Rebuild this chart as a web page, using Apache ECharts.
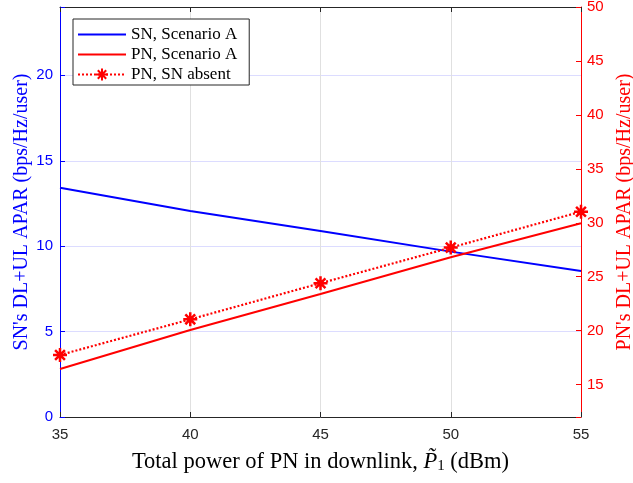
<!DOCTYPE html>
<html><head><meta charset="utf-8">
<script src="https://cdn.jsdelivr.net/npm/echarts@6/dist/echarts.min.js"></script>
<style>html,body{margin:0;padding:0;background:#fff}#c{width:633px;height:483px}</style>
</head><body><div id="c"></div>
<script>
const xValues = [35, 40, 45, 50, 55];
const snScenarioA = [13.42, 12.06, 10.89, 9.68, 8.55];
const pnScenarioA = [16.45, 20.07, 23.4, 26.8, 29.95];
const pnSnAbsent = [17.75, 21.05, 24.4, 27.7, 31.03];
const seriesNames = ['SN, Scenario A', 'PN, Scenario A', 'PN, SN absent'];
const leftTicks = [0, 5, 10, 15, 20];
const rightTicks = [15, 20, 25, 30, 35, 40, 45, 50];

const pairs = v => xValues.map((x, i) => [x, v[i]]);
const star = 'path://M0,-10L0,10M-10,0L10,0M-7,-7L7,7M-7,7L7,-7';
const serif = '"Liberation Serif","Times New Roman",serif';
const sans = '"Liberation Sans",Arial,sans-serif';

const chart = echarts.init(document.getElementById('c'));
chart.setOption({
  animation: false,
  backgroundColor: '#fff',
  grid: {left: 60, right: 52, top: 7, bottom: 66, containLabel: false, outerBoundsMode: 'none'},
  legend: {
    left: 73, top: 19, orient: 'vertical',
    backgroundColor: '#fff', borderColor: '#262626', borderWidth: 1,
    padding: [7, 12, 2, 4], itemGap: 3, itemWidth: 48, itemHeight: 15,
    textStyle: {fontFamily: serif, fontSize: 17, color: '#000', lineHeight: 17},
    data: [
      {name: seriesNames[0], itemStyle: {color: 'rgba(0,0,0,0)', borderWidth: 0}},
      {name: seriesNames[1], itemStyle: {color: 'rgba(0,0,0,0)', borderWidth: 0}},
      {name: seriesNames[2]}
    ]
  },
  xAxis: [{
    type: 'value', min: 35, max: 55, interval: 5,
    name: '{n|Total power of PN in downlink, }{i|P\u0303}{s|1}{n| (dBm)}',
    nameLocation: 'middle', nameGap: 33,
    nameTextStyle: {rich: {
      n: {fontFamily: serif, fontSize: 22.5, color: '#000'},
      i: {fontFamily: serif, fontSize: 22.5, fontStyle: 'italic', color: '#000'},
      s: {fontFamily: serif, fontSize: 15, color: '#000', padding: [9, 0, 0, 0]}
    }},
    axisLine: {lineStyle: {color: '#262626', width: 1}},
    axisTick: {inside: true, length: 5, lineStyle: {color: '#262626'}},
    axisLabel: {fontFamily: sans, fontSize: 15, color: '#262626', margin: 10},
    splitLine: {show: true, lineStyle: {color: '#e0e0e0', width: 1}}
  }, {
    type: 'value', min: 35, max: 55, interval: 5, position: 'top',
    axisLine: {lineStyle: {color: '#262626', width: 1}},
    axisTick: {inside: true, length: 5, lineStyle: {color: '#262626'}},
    axisLabel: {show: false}, splitLine: {show: false}
  }],
  yAxis: [{
    type: 'value', min: 0, max: 24, interval: 5, position: 'left',
    name: "SN's DL+UL APAR (bps/Hz/user)", nameLocation: 'middle', nameGap: 28,
    nameMoveOverlap: false,
    nameTextStyle: {fontFamily: serif, fontSize: 20, color: '#0000ff'},
    axisLine: {show: true, lineStyle: {color: '#0000ff', width: 1}},
    axisTick: {show: true, inside: true, length: 5, lineStyle: {color: '#0000ff'}},
    axisLabel: {fontFamily: sans, fontSize: 15, color: '#0000ff', margin: 7,
      formatter: v => leftTicks.includes(v) ? String(v) : ''},
    splitLine: {show: true, lineStyle: {color: '#dcdcff', width: 1}}
  }, {
    type: 'value', min: 12, max: 50, splitNumber: 8, position: 'right',
    name: "PN's DL+UL APAR (bps/Hz/user)", nameLocation: 'middle', nameGap: 34,
    nameMoveOverlap: false,
    nameTextStyle: {fontFamily: serif, fontSize: 20, color: '#ff0000'},
    axisLine: {show: true, lineStyle: {color: '#ff0000', width: 1}},
    axisTick: {show: true, inside: true, length: 5, lineStyle: {color: '#ff0000'}},
    axisLabel: {fontFamily: sans, fontSize: 15, color: '#ff0000', margin: 6,
      formatter: v => rightTicks.includes(v) ? String(v) : ''},
    splitLine: {show: false}
  }],
  series: [{
    name: seriesNames[0], type: 'line', yAxisIndex: 0, data: pairs(snScenarioA),
    symbol: 'none', lineStyle: {color: '#0000ff', width: 2}, itemStyle: {color: '#0000ff'}
  }, {
    name: seriesNames[1], type: 'line', yAxisIndex: 1, data: pairs(pnScenarioA),
    symbol: 'none', lineStyle: {color: '#ff0000', width: 2}, itemStyle: {color: '#ff0000'}
  }, {
    name: seriesNames[2], type: 'line', yAxisIndex: 1, data: pairs(pnSnAbsent),
    symbol: star, symbolSize: 14, showAllSymbol: true,
    lineStyle: {color: '#ff0000', width: 2.2, type: [2, 2]},
    itemStyle: {color: '#ff0000', borderColor: '#ff0000', borderWidth: 2.5}
  }]
});
</script></body></html>
